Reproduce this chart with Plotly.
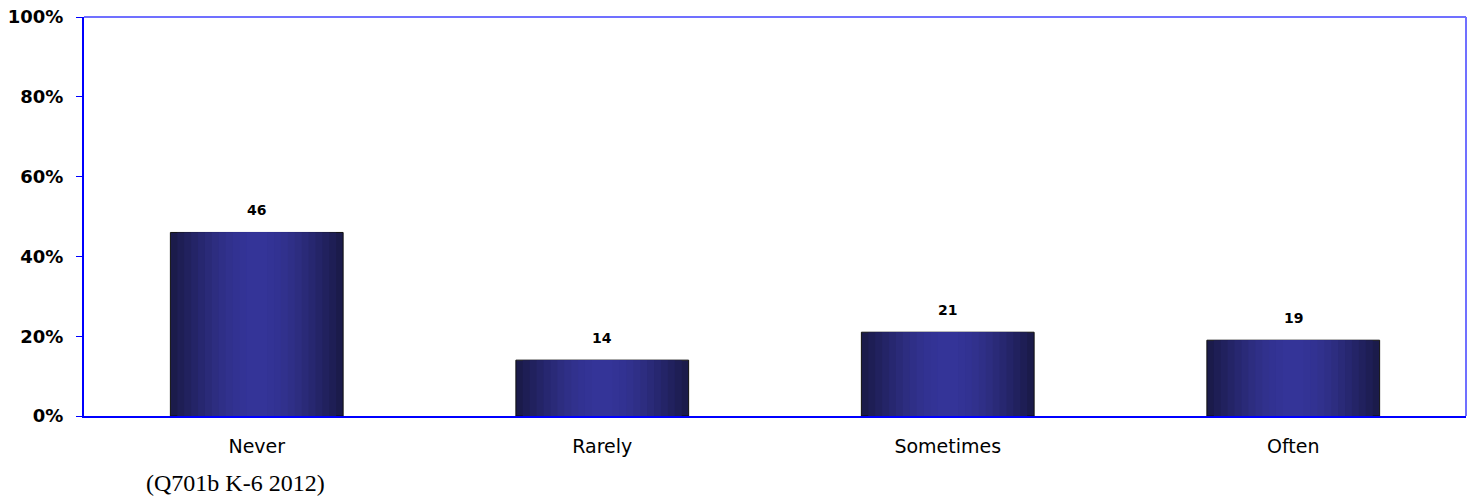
import plotly.graph_objects as go

categories = ["Never", "Rarely", "Sometimes", "Often"]
values = [46, 14, 21, 19]
tick_vals = [0, 20, 40, 60, 80, 100]
tick_text = ["0%", "20%", "40%", "60%", "80%", "100%"]
caption = "(Q701b K-6 2012)"

fig = go.Figure()

# Simulated horizontal gradient: dark edges, bright centre
layers = [
    (0.50, "#1b1b4b"),
    (0.46, "#1e1e55"),
    (0.42, "#21215e"),
    (0.38, "#242467"),
    (0.34, "#272770"),
    (0.30, "#2a2a78"),
    (0.26, "#2d2d80"),
    (0.22, "#2f2f87"),
    (0.18, "#31318d"),
    (0.14, "#323292"),
    (0.10, "#333395"),
    (0.06, "#343498"),
]
for i, (w, c) in enumerate(layers):
    fig.add_trace(go.Bar(
        x=categories, y=values, width=w,
        marker=dict(color=c, line=dict(color="#111111", width=1) if i == 0 else dict(width=0)),
        hoverinfo="skip", showlegend=False,
    ))

for cat, v in zip(categories, values):
    fig.add_annotation(x=cat, y=v, text=f"<b>{v}</b>", showarrow=False,
                       yshift=22, font=dict(family="DejaVu Sans", size=14, color="#000000"))

fig.add_annotation(xref="paper", yref="paper", x=0.0435, y=-0.168, xanchor="left", yanchor="middle",
                   text=caption, showarrow=False,
                   font=dict(family="Liberation Serif", size=24, color="#000000"))

# light-blue frame on top and right
fig.add_shape(type="line", xref="paper", yref="paper", x0=0, x1=1, y0=1, y1=1,
              line=dict(color="#7070ff", width=2))
fig.add_shape(type="line", xref="paper", yref="paper", x0=1, x1=1, y0=0, y1=1,
              line=dict(color="#7070ff", width=2))

fig.update_layout(
    width=1471, height=500,
    margin=dict(l=84, r=5, t=17, b=84),
    barmode="overlay",
    plot_bgcolor="white", paper_bgcolor="white",
    xaxis=dict(showline=True, linecolor="#0000ff", linewidth=2, mirror=False,
               showgrid=False, ticks="", ticklabelstandoff=12,
               tickfont=dict(family="DejaVu Sans", size=19, color="#000000")),
    yaxis=dict(range=[0, 100], tickvals=tick_vals, ticktext=tick_text,
               showline=True, linecolor="#0000ff", linewidth=2, mirror=False,
               showgrid=False, ticks="outside", ticklen=6, tickcolor="#0000ff", tickwidth=1,
               ticklabelstandoff=9,
               tickfont=dict(family="DejaVu Sans", size=18, color="#000000", weight="bold")),
)

fig.write_html("out.html", config={"displayModeBar": False},
               post_script="document.body.style.margin='0';")
